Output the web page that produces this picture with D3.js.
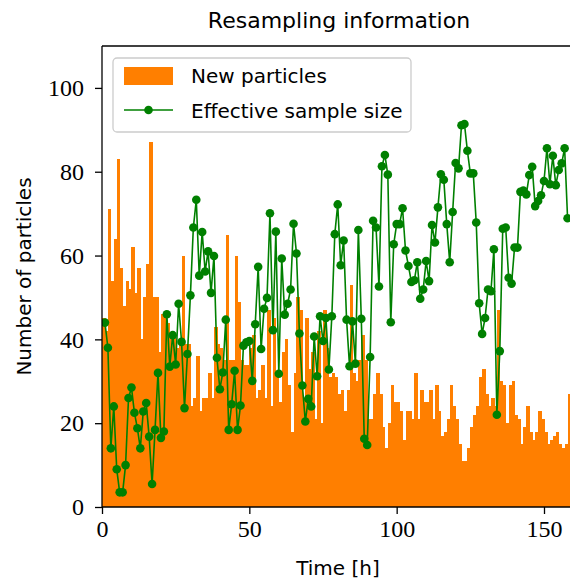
<!DOCTYPE html>
<html>
<head>
<meta charset="utf-8">
<script src="https://cdn.jsdelivr.net/npm/d3@7"></script>
<style>
  html, body { margin: 0; padding: 0; background: #fff; }
  svg { display: block; }
</style>
</head>
<body>
<svg id="chart" width="570" height="580"></svg>
<script>
// ---- data ----
const title = "Resampling information";
const xLabel = "Time [h]";
const yLabel = "Number of particles";
const seriesNames = ["New particles", "Effective sample size"];
const xTicks = [0, 50, 100, 150];
const yTicks = [0, 20, 40, 60, 80, 100];

// new particles per hour, bar i covers [i, i+1]
const newParticles = [
  45, 42, 71, 54, 64, 83, 57, 48, 54, 52, 62, 51, 57, 40, 50, 58, 87, 50, 50, 37,
  46, 46, 44, 40, 41, 38, 40, 60, 39, 39, 24, 26, 36, 23, 26, 26, 32, 26, 43, 39,
  38, 35, 65, 35, 35, 60, 49, 35, 34, 34, 38, 41, 26, 28, 34, 26, 47, 24, 45, 31,
  25, 37, 40, 29, 18, 32, 50, 47, 26, 45, 33, 37, 21, 42, 20, 47, 38, 31, 32, 31,
  27, 28, 23, 28, 53, 32, 30, 35, 41, 35, 21, 21, 27, 32, 27, 19, 14, 20, 29, 25,
  25, 23, 16, 23, 23, 21, 32, 21, 28, 25, 25, 28, 21, 29, 23, 17, 18, 21, 29, 24,
  21, 15, 11, 11, 14, 19, 22, 24, 31, 33, 27, 24, 26, 24, 47, 30, 29, 20, 29, 30,
  22, 21, 15, 19, 24, 18, 16, 18, 23, 21, 18, 15, 16, 17, 18, 15, 14, 15, 27
];

// effective sample size at hours 1, 2, 3, ...
const ess = [
  44, 38, 14, 24, 9, 3.5, 3.5, 10, 26, 28.5, 22.5, 18.8, 14, 22.8, 24.8, 16.8, 5.5, 18.4, 32, 16.5,
  18, 46, 33.5, 41, 34, 48.5, 39.4, 23.6, 36.5, 50.5, 66.7, 73.3, 55.2, 65.6, 56.2, 61, 51.1, 59.9, 35.6, 28.1,
  32.1, 44.7, 18.4, 24.5, 32.5, 18.4, 24.2, 38.5, 39.3, 39.6, 30.1, 43.6, 57.3, 37.7, 47.3, 49.9, 70.1, 42.2, 65.7, 31.8,
  59.3, 45.9, 48.5, 51.9, 67.6, 60.5, 41.4, 29, 20.4, 25.8, 24, 40.7, 31.2, 45.5, 39.6, 45.1, 32.8, 45.5, 65.1, 72.2,
  57.7, 63.6, 44.7, 33.6, 44.3, 34.2, 66.1, 44.9, 16.3, 14.8, 35.8, 68.3, 66.7, 52.6, 81.3, 84, 79.3, 44.1, 62.7, 67.5,
  67.5, 71.3, 61.2, 57.5, 53.7, 54.1, 58.4, 49.7, 51.9, 58.7, 53.9, 67.3, 63.1, 71.5, 79.4, 78.1, 67.5, 58.4, 70.4, 82.1,
  80.8, 91.1, 91.4, 85, 79.6, 79.6, 67.9, 48.6, 41.3, 45.1, 51.9, 51.5, 61.5, 22, 37.2, 66.4, 66.7, 54.7, 53.3, 61.9,
  61.9, 75.2, 75.5, 74.6, 79.2, 81.2, 71.8, 73, 74.4, 77.8, 85.6, 77, 83.8, 76.8, 80.4, 82, 85.6, 68.9
];

// ---- layout ----
const svg = d3.select("#chart");
const mLeft = 102, mTop = 46, mBottom = 507, mRight = 578;
const x = d3.scaleLinear().domain([0, 150]).range([mLeft, 544]);
const y = d3.scaleLinear().domain([0, 110]).range([mBottom, mTop]);

const orange = "#ff7f00";
const green = "#008000";
const sans = "'DejaVu Sans', sans-serif";
const serif = "'Liberation Serif', 'DejaVu Serif', serif";

svg.append("defs").append("clipPath").attr("id", "plotclip")
  .append("rect").attr("x", mLeft).attr("y", mTop).attr("width", mRight - mLeft).attr("height", mBottom - mTop);

const plot = svg.append("g").attr("clip-path", "url(#plotclip)");

// bars
plot.append("g").attr("shape-rendering", "crispEdges")
  .selectAll("rect").data(newParticles).join("rect")
  .attr("x", (d, i) => x(i))
  .attr("width", (d, i) => x(i + 1) - x(i) + 0.6)
  .attr("y", d => y(d))
  .attr("height", d => y(0) - y(d))
  .attr("fill", orange);

// ess line
const essPts = ess.map((v, i) => [i + 1, v]);
plot.append("path").datum(essPts)
  .attr("fill", "none").attr("stroke", green).attr("stroke-width", 1.6)
  .attr("stroke-linejoin", "round")
  .attr("d", d3.line().x(d => x(d[0])).y(d => y(d[1])));
plot.append("g").selectAll("circle").data(essPts).join("circle")
  .attr("cx", d => x(d[0])).attr("cy", d => y(d[1])).attr("r", 4.3)
  .attr("fill", green);

// axes
const xAxis = d3.axisBottom(x).tickValues(xTicks).tickSize(7).tickPadding(6).tickFormat(d3.format("d"));
const gx = svg.append("g").attr("transform", `translate(0,${mBottom})`).call(xAxis);
gx.select(".domain").remove();
gx.selectAll(".tick line").attr("stroke", "#000").attr("stroke-width", 1.3);
gx.selectAll(".tick text").attr("font-family", serif).attr("font-size", 24).attr("fill", "#000");

const yAxis = d3.axisLeft(y).tickValues(yTicks).tickSize(7).tickPadding(11).tickFormat(d3.format("d"));
const gy = svg.append("g").attr("transform", `translate(${mLeft},0)`).call(yAxis);
gy.select(".domain").remove();
gy.selectAll(".tick line").attr("stroke", "#000").attr("stroke-width", 1.3);
gy.selectAll(".tick text").attr("font-family", serif).attr("font-size", 24).attr("fill", "#000");

// spines
const spine = svg.append("g").attr("stroke", "#000").attr("stroke-width", 1.3).attr("fill", "none");
spine.append("line").attr("x1", mLeft).attr("x2", mLeft).attr("y1", mTop).attr("y2", mBottom);
spine.append("line").attr("x1", mLeft).attr("x2", 570).attr("y1", mBottom).attr("y2", mBottom);
spine.append("line").attr("x1", mLeft).attr("x2", 570).attr("y1", mTop).attr("y2", mTop);

// title & labels
svg.append("text").attr("x", 339).attr("y", 28).attr("text-anchor", "middle")
  .attr("font-family", sans).attr("font-size", 22).text(title);
svg.append("text").attr("x", 338).attr("y", 575).attr("text-anchor", "middle")
  .attr("font-family", sans).attr("font-size", 20).text(xLabel);
svg.append("text").attr("transform", `translate(31,${(mTop + mBottom) / 2}) rotate(-90)`)
  .attr("text-anchor", "middle")
  .attr("font-family", sans).attr("font-size", 20).text(yLabel);

// legend
const lg = svg.append("g");
lg.append("rect").attr("x", 113).attr("y", 58).attr("width", 298).attr("height", 74).attr("rx", 4)
  .attr("fill", "#fff").attr("fill-opacity", 0.8).attr("stroke", "#cccccc").attr("stroke-width", 1.3);
lg.append("rect").attr("x", 124).attr("y", 67).attr("width", 49).attr("height", 18).attr("fill", orange);
lg.append("line").attr("x1", 124).attr("x2", 173).attr("y1", 110).attr("y2", 110)
  .attr("stroke", green).attr("stroke-width", 1.6);
lg.append("circle").attr("cx", 148.5).attr("cy", 110).attr("r", 4.3).attr("fill", green);
lg.append("text").attr("x", 191).attr("y", 83).attr("font-family", sans).attr("font-size", 20).text(seriesNames[0]);
lg.append("text").attr("x", 191).attr("y", 118).attr("font-family", sans).attr("font-size", 20).text(seriesNames[1]);
</script>
</body>
</html>
